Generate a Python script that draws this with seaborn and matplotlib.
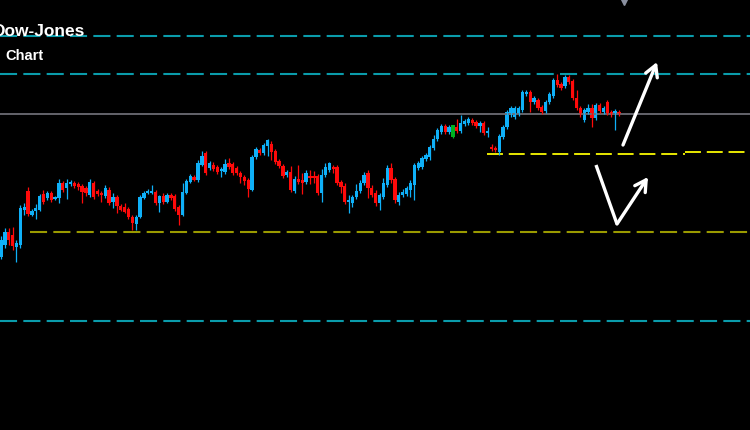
import numpy as np
import pandas as pd
import seaborn as sns
import matplotlib
matplotlib.use('Agg')
import matplotlib.pyplot as plt

# candle values (price axis runs top->down, like the screen)
opens = [257, 245, 232, 235, 247, 245, 210, 191, 215, 211,
         210, 194, 198, 193, 199, 198, 183, 188, 184, 183,
         184, 186, 188, 195, 183, 191, 193, 196, 190, 202,
         197, 206, 207, 209, 217, 224, 217, 198, 193, 193,
         192, 203, 196, 202, 195, 196, 207, 215, 193, 182,
         177, 180, 165, 153, 168, 165, 167, 171, 172, 163,
         164, 168, 173, 177, 180, 190, 157, 150, 153, 146,
         144, 151, 161, 166, 175, 172, 191, 179, 180, 182,
         176, 176, 176, 193, 175, 170, 167, 167, 182, 186,
         202, 203, 197, 191, 183, 173, 188, 193, 203, 197,
         185, 168, 179, 202, 195, 194, 190, 185, 168, 167,
         159, 157, 148, 139, 132, 126, 132, 137, 127, 131,
         124, 123, 120, 122, 126, 123, 133, 147, 148, 152,
         137, 127, 115, 117, 114, 110, 94, 92, 102, 100,
         107, 111, 102, 96, 80, 84, 86, 77, 81, 98,
         108, 120, 112, 108, 118, 105, 112, 102, 112, 113,
         112]
closes = [240, 232, 240, 246, 243, 208, 207, 214, 211, 208,
          196, 202, 193, 200, 197, 183, 190, 183, 182, 186,
          187, 192, 193, 182, 197, 194, 195, 188, 203, 197,
          206, 210, 212, 217, 223, 217, 197, 193, 191, 191,
          203, 196, 202, 195, 198, 209, 215, 192, 181, 176,
          180, 163, 156, 173, 163, 169, 172, 169, 164, 167,
          173, 173, 177, 181, 189, 157, 149, 153, 145, 140,
          152, 162, 166, 176, 172, 190, 179, 182, 183, 173,
          177, 177, 193, 175, 167, 163, 169, 183, 187, 202,
          200, 197, 191, 183, 175, 188, 195, 203, 195, 183,
          168, 180, 200, 195, 192, 188, 183, 165, 163, 158,
          155, 147, 139, 130, 126, 132, 127, 125, 131, 123,
          121, 119, 123, 126, 123, 133, 131, 149, 150, 136,
          127, 112, 108, 108, 108, 92, 92, 102, 98, 108,
          112, 102, 94, 80, 85, 88, 77, 82, 98, 108,
          115, 110, 108, 118, 105, 111, 108, 113, 115, 111,
          114]
highs = [236, 228, 228, 227, 240, 205, 203, 187, 209, 204,
         194, 190, 191, 191, 196, 179, 181, 179, 180, 181,
         182, 184, 186, 179, 181, 189, 191, 185, 187, 193,
         195, 204, 203, 207, 215, 215, 195, 191, 189, 185,
         190, 195, 193, 193, 193, 194, 205, 183, 179, 174,
         175, 160, 151, 151, 161, 162, 165, 167, 159, 158,
         162, 166, 171, 175, 178, 155, 147, 148, 143, 139,
         141, 149, 159, 164, 170, 166, 176, 165, 173, 170,
         170, 171, 174, 169, 163, 162, 165, 165, 180, 183,
         195, 195, 184, 180, 172, 170, 185, 190, 193, 178,
         165, 163, 177, 192, 189, 186, 180, 163, 161, 156,
         153, 145, 135, 128, 124, 124, 125, 125, 119, 115,
         119, 117, 118, 120, 121, 121, 127, 144, 146, 134,
         125, 110, 106, 106, 106, 90, 90, 90, 96, 98,
         105, 100, 92, 78, 74, 82, 75, 75, 79, 90,
         106, 108, 104, 104, 103, 103, 106, 100, 110, 109,
         110]
lows = [259, 248, 245, 250, 262, 248, 215, 216, 216, 219,
        211, 204, 200, 202, 200, 203, 192, 199, 186, 188,
        190, 203, 196, 197, 199, 196, 202, 198, 205, 208,
        213, 211, 213, 219, 230, 230, 218, 199, 194, 194,
        205, 212, 204, 203, 200, 211, 225, 216, 194, 183,
        181, 182, 166, 175, 170, 171, 174, 177, 174, 169,
        175, 175, 183, 185, 197, 191, 159, 155, 155, 156,
        160, 164, 168, 178, 177, 192, 193, 184, 194, 184,
        184, 183, 195, 202, 177, 172, 173, 185, 193, 204,
        213, 207, 199, 193, 185, 198, 197, 206, 210, 199,
        187, 183, 203, 205, 197, 196, 197, 200, 170, 169,
        161, 160, 150, 141, 134, 134, 134, 138, 133, 133,
        126, 125, 125, 128, 132, 135, 137, 151, 152, 155,
        139, 129, 117, 119, 116, 112, 96, 112, 104, 110,
        114, 113, 104, 98, 87, 90, 88, 84, 100, 110,
        117, 122, 114, 127, 120, 113, 114, 115, 117, 130,
        116]
green_bars = [117]

# horizontal levels
cyan_levels = [36, 74, 321]
gray_level = 114
olive_level = 232
yellow_level_a = 153.5
yellow_level_b = 152.3

df = pd.DataFrame({'open': opens, 'close': closes, 'high': highs, 'low': lows})
step = 618 / (len(df) - 1)
df['x'] = np.arange(len(df)) * step + 1
df['color'] = np.where(df['close'] < df['open'], '#0fb0f8', '#ff0a0a')
df.loc[green_bars, 'color'] = '#00b020'
df['bottom'] = df[['open', 'close']].min(axis=1)
df['height'] = (df['close'] - df['open']).abs().clip(lower=1.5)

sns.set_style('dark', {'axes.facecolor': 'black', 'figure.facecolor': 'black'})

fig = plt.figure(figsize=(7.5, 4.3), dpi=100)
ax = fig.add_axes([0, 0, 1, 1])
ax.set_facecolor('black')
ax.set_xlim(0, 750)
ax.set_ylim(430, 0)
ax.set_axis_off()

dash = (0, (8.2, 3.0))
for lv in cyan_levels:
    ax.hlines(lv, 0, 750, colors='#0a9cab', lw=1.5, linestyles=dash)
ax.hlines(gray_level, 0, 750, colors='#6c6c74', lw=1.3)
ax.hlines(olive_level, 30, 750, colors='#9a9a00', lw=1.5, linestyles=dash)
ax.hlines(yellow_level_a, 487, 685, colors='#e8e800', lw=1.4, linestyles=dash)
ax.hlines(yellow_level_b, 685, 750, colors='#e8e800', lw=1.4, linestyles=dash)

# wicks and bodies
ax.vlines(df['x'], df['high'], df['low'], colors=df['color'], lw=0.9)
ax.bar(df['x'], df['height'], bottom=df['bottom'], width=3.3,
       color=df['color'], linewidth=0)

# arrows
aprops = dict(arrowstyle='->,head_length=0.8,head_width=0.45', color='white',
              lw=2.4, shrinkA=0, shrinkB=0)
ax.annotate('', xy=(657, 62), xytext=(623, 145), arrowprops=aprops)
ax.plot([596, 617], [165, 224], color='white', lw=2.4, solid_capstyle='butt')
ax.annotate('', xy=(648, 177), xytext=(617, 224), arrowprops=aprops)

ax.plot([624], [-2], marker='v', ms=10, color='#8a90a0', clip_on=True)

ax.text(-7, 36, 'Dow-Jones', color='white', fontsize=12.5, fontweight='bold',
        va='baseline', family=['Liberation Sans', 'DejaVu Sans'])
ax.text(5, 60, 'Chart', color='white', fontsize=10.5, fontweight='bold',
        va='baseline', family=['Liberation Sans', 'DejaVu Sans'])

fig.savefig('out.png', dpi=100, facecolor='black')
